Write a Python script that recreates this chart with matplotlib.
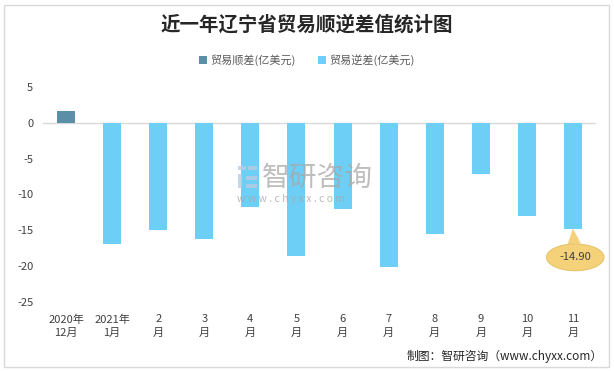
import matplotlib
matplotlib.use("Agg")
import matplotlib.pyplot as plt
from matplotlib.patches import Rectangle

plt.rcParams['font.family'] = ['Noto Sans CJK SC', 'DejaVu Sans']

categories = ["2020年\n12月", "2021年\n1月", "2\n月", "3\n月", "4\n月", "5\n月",
              "6\n月", "7\n月", "8\n月", "9\n月", "10\n月", "11\n月"]
surplus = [1.7, 0, 0, 0, 0, 0, 0, 0, 0, 0, 0, 0]
deficit = [0, -16.9, -15.0, -16.2, -11.8, -18.6, -12.0, -20.1, -15.5, -7.2, -13.0, -14.90]
yticks = [5, 0, -5, -10, -15, -20, -25]

c_sur = "#5B8FA8"
c_def = "#6DCFF6"

fig = plt.figure(figsize=(6.14, 3.71), dpi=100)
ax = fig.add_axes([43/614, 1-301.7/371, (596-43)/614, (301.7-87)/371])

x = list(range(len(categories)))
ax.bar(x, surplus, width=0.39, color=c_sur, label="贸易顺差(亿美元)", zorder=3)
ax.bar(x, deficit, width=0.39, color=c_def, label="贸易逆差(亿美元)", zorder=3)

ax.set_xlim(-0.5, len(categories)-0.5)
ax.set_ylim(-25, 5)
ax.set_yticks(yticks)
ax.set_yticklabels([str(v) for v in yticks], fontsize=8, color="#404040")
ax.set_xticks(x)
ax.set_xticklabels(categories, fontsize=8, color="#404040", linespacing=1.45)
ax.tick_params(length=0, pad=7)
ax.tick_params(axis='x', pad=9)
for s in ax.spines.values():
    s.set_visible(False)
ax.axhline(0, color="#D9D9D9", lw=1, zorder=2)

# callout for last bar
ax.annotate("-14.90", xy=(11, deficit[-1]), xytext=(11.05, -18.8),
            fontsize=8, color="#404040", ha="center", va="center", zorder=5,
            bbox=dict(boxstyle="ellipse,pad=0.4", fc="#F5D27A", ec="#E6C46C", lw=0.8),
            arrowprops=dict(arrowstyle="wedge,tail_width=1.1,shrink_factor=0.5",
                            fc="#F5D27A", ec="#F5D27A", lw=0.5,
                            shrinkA=0, shrinkB=0))

# watermark
fig.text(262/614, 1-178/371, "智研咨询", fontsize=20, color="#A8A8A8", alpha=0.75,
         ha="left", va="center", zorder=10)
fig.text(237/614, 1-199/371, "w w w . c h y x x . c o m", fontsize=7.5, color="#A8A8A8",
         alpha=0.8, ha="left", va="center", zorder=10)
for (lx, ly, lw_, lh) in [(238, 166, 8, 4), (248, 166, 9, 4), (238, 174, 4, 14),
                          (246, 176, 11, 4), (246, 184, 11, 4)]:
    fig.patches.append(Rectangle((lx/614, 1-(ly+lh)/371), lw_/614, lh/371,
                                 transform=fig.transFigure, fc="#B9CCE0", ec="none",
                                 alpha=0.8, zorder=10))

# title
fig.text(0.5, 1-25/371, "近一年辽宁省贸易顺逆差值统计图", fontsize=14, fontweight="bold",
         color="#262626", ha="center", va="center")

# legend
leg = fig.legend(loc="center", bbox_to_anchor=(0.5, 1-60/371), ncol=2, frameon=False,
                 fontsize=8, handlelength=0.7, handleheight=0.7, columnspacing=2.0,
                 handletextpad=0.3)
for t in leg.get_texts():
    t.set_color("#595959")

# source
fig.text(603/614, 1-356/371, "制图：智研咨询（www.chyxx.com）", fontsize=8.5,
         color="#262626", ha="right", va="center")

# border
fig.patches.append(Rectangle((4/614, 4/371), 605/614, 362/371, transform=fig.transFigure,
                             fill=False, ec="#D9D9D9", lw=1))

fig.savefig("out.png", dpi=100)
